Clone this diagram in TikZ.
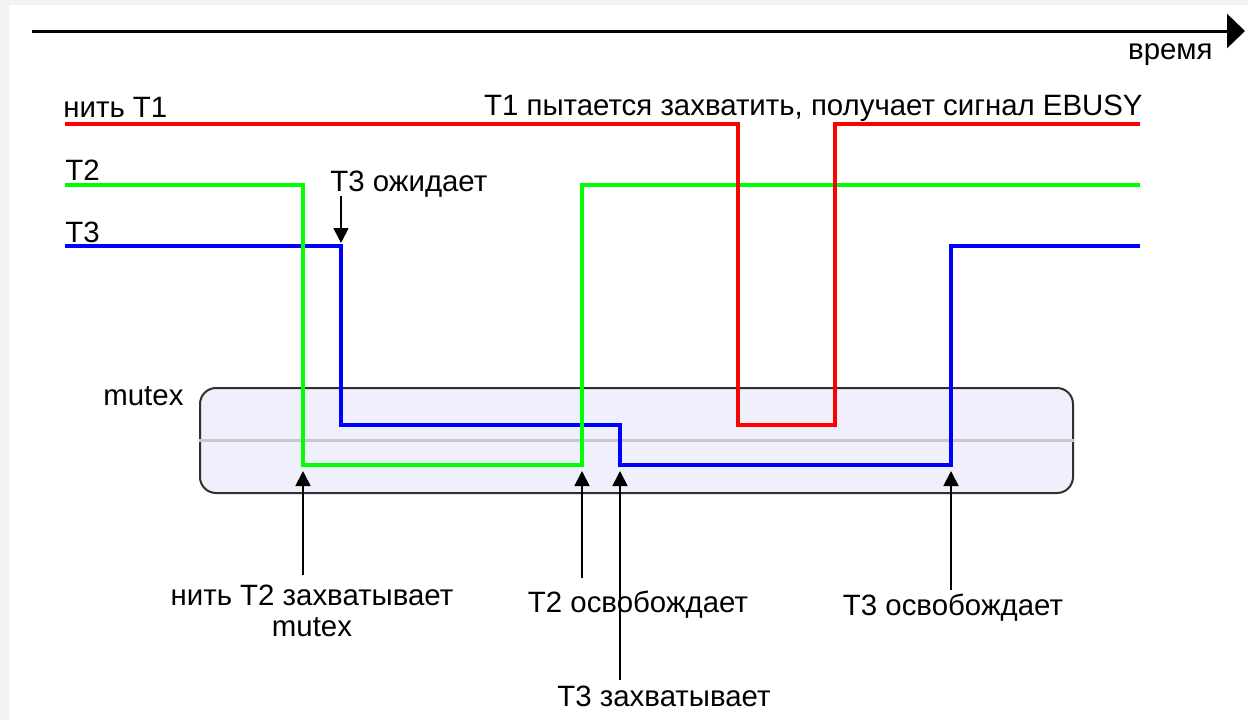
\documentclass[tikz,border=0pt]{standalone}
\usepackage{fontspec}
\setmainfont{Liberation Sans}
\usetikzlibrary{arrows.meta}
\definecolor{pagegray}{HTML}{F2F2F2}
\definecolor{mutexfill}{HTML}{F0F0FC}
\definecolor{mutexedge}{HTML}{303030}
\definecolor{midgray}{HTML}{C8C8CC}
\definecolor{tred}{HTML}{FF0000}
\definecolor{tgreen}{HTML}{00FF00}
\definecolor{tblue}{HTML}{0000FF}
\tikzset{
  lbl/.style={inner sep=0pt, font=\fontsize{14.7}{16.5}\selectfont, text=black},
  thread/.style={line width=2pt, line join=miter},
  pointer/.style={line width=0.9pt, -{Triangle[length=7.5pt,width=7.5pt]}},
  timeaxis/.style={line width=1.5pt, -{Triangle[length=9pt,width=17pt]}},
}
\begin{document}
\begin{tikzpicture}[x=0.5pt,y=-0.5pt]
% page
\fill[pagegray] (0,0) rectangle (1248,720);
\fill[white] (9,5) rectangle (1248,720);
\useasboundingbox (0,0) rectangle (1248,720);

% time axis
\coordinate (axisL) at (32,31);
\coordinate (axisR) at (1245,31);
\draw[timeaxis] (axisL) -- (axisR);
\node[lbl, anchor=east] (time) at (1213,55) {время};

% mutex
\node[draw=mutexedge, line width=1pt, fill=mutexfill, rounded corners=8pt,
      minimum width=436.5pt, minimum height=52.5pt, inner sep=0pt]
      (mutex) at (636.5,440.5) {};
\draw[midgray, line width=1.2pt] (mutex.west) -- (mutex.east);
\node[lbl, anchor=west] (mutexlbl) at (103,396) {mutex};

% thread T3
\coordinate (b0) at (65,246);   \coordinate (b1) at (341,246);
\coordinate (b2) at (341,425);  \coordinate (b3) at (620,425);
\coordinate (b4) at (620,465);  \coordinate (b5) at (951,465);
\coordinate (b6) at (951,246);  \coordinate (b7) at (1140,246);
\draw[thread, tblue] (b0) -- (b1) -- (b2) -- (b3) -- (b4) -- (b5) -- (b6) -- (b7);

% thread T2
\coordinate (g0) at (65,185);   \coordinate (g1) at (303,185);
\coordinate (g2) at (303,465);  \coordinate (g3) at (582,465);
\coordinate (g4) at (582,185);  \coordinate (g5) at (1140,185);
\draw[thread, tgreen] (g0) -- (g1) -- (g2) -- (g3) -- (g4) -- (g5);

% thread T1
\coordinate (r0) at (65,124);   \coordinate (r1) at (738,124);
\coordinate (r2) at (738,425);  \coordinate (r3) at (835,425);
\coordinate (r4) at (835,124);  \coordinate (r5) at (1140,124);
\draw[thread, tred] (r0) -- (r1) -- (r2) -- (r3) -- (r4) -- (r5);

% thread names
\node[lbl, anchor=base west] (t1lbl) at (63,117) {нить T1};
\node[lbl, anchor=base west] (t2lbl) at (65,180) {T2};
\node[lbl, anchor=base west] (t3lbl) at (65,242) {T3};
\node[lbl, anchor=base east] (ebusy) at (1143,115) {T1 пытается захватить, получает сигнал EBUSY};

% T3 waits
\node[lbl, anchor=base west] (wait) at (330,191) {T3 ожидает};
\coordinate (waitTop) at (341,196);
\coordinate (waitTip) at (341,243);
\draw[pointer] (waitTop) -- (waitTip);

% events below the mutex
\node[lbl, align=center, anchor=north] (grab2) at (312,585) {нить T2 захватывает\\[-1pt]mutex};
\node[lbl, anchor=base] (rel2) at (638,612) {T2 освобождает};
\node[lbl, anchor=base] (rel3) at (953,615) {T3 освобождает};
\node[lbl, anchor=base] (grab3) at (664,706) {T3 захватывает};

\coordinate (grab2Tip) at (303,471);
\coordinate (rel2Tip) at (582,471);
\coordinate (grab3Tip) at (620,471);
\coordinate (rel3Tip) at (951,471);
\coordinate (grab2Tail) at (303,575);
\coordinate (rel2Tail) at (582,578);
\coordinate (grab3Tail) at (620,680);
\coordinate (rel3Tail) at (951,590);
\draw[pointer] (grab2Tail) -- (grab2Tip);
\draw[pointer] (rel2Tail) -- (rel2Tip);
\draw[pointer] (grab3Tail) -- (grab3Tip);
\draw[pointer] (rel3Tail) -- (rel3Tip);
\end{tikzpicture}
\end{document}
